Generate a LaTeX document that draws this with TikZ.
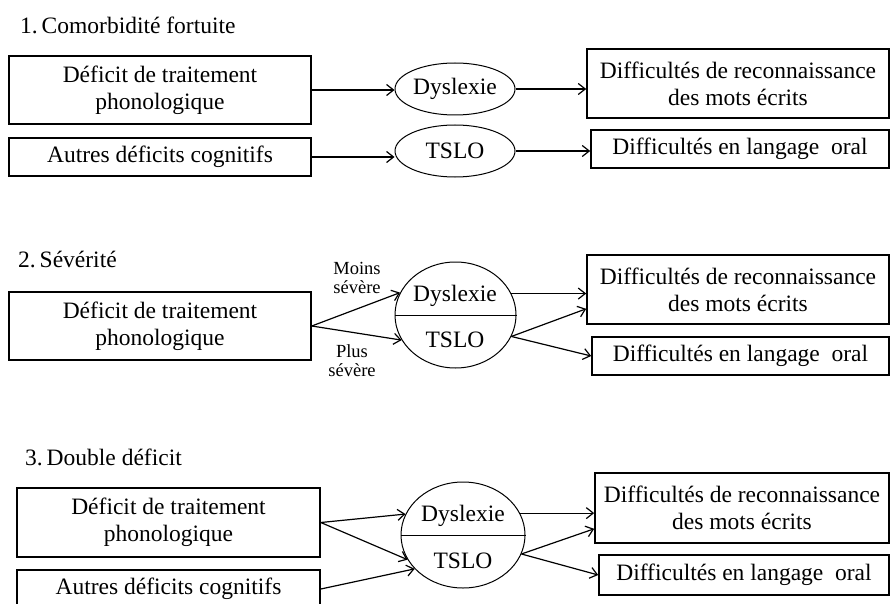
\documentclass[tikz,border=0pt]{standalone}
\usepackage{fontspec}
\setmainfont{Liberation Serif}
\usetikzlibrary{shapes.geometric,arrows.meta}

\begin{document}
\begin{tikzpicture}[x=1pt,y=-1pt,
  box/.style={draw,line width=1.6pt,rectangle,align=center,inner sep=0pt,font=\fontsize{23.5}{27}\selectfont},
  oval/.style={draw,line width=1pt,ellipse,inner sep=0pt,font=\fontsize{23.5}{27}\selectfont},
  txt/.style={inner sep=0pt,font=\fontsize{23.5}{27}\selectfont},
  titre/.style={txt,anchor=west},
  petit/.style={align=center,inner sep=0pt,font=\fontsize{18.5}{19}\selectfont},
  fleche/.style={-{Straight Barb[length=7pt,width=11pt]},line width=1.2pt}]
\useasboundingbox (0,0) rectangle (890,604);

% 1. Comorbidite fortuite
\node[titre] (titre1) at (20,25) {1.\,Comorbidité fortuite};
\node[box,minimum width=302pt,minimum height=68pt] (phono1) at (160,90) {Déficit de traitement\\phonologique};
\node[box,minimum width=302pt,minimum height=38pt] (autres1) at (160,157) {Autres déficits cognitifs};
\node[oval,minimum width=120pt,minimum height=52pt] (dys1) at (455,89) {Dyslexie};
\node[oval,minimum width=120pt,minimum height=52pt] (tslo1) at (455,151) {TSLO};
\node[box,minimum width=302pt,minimum height=69pt] (ecrit1) at (738,83.5) {Difficultés de reconnaissance\\des mots écrits};
\node[box,minimum width=298pt,minimum height=38pt] (oral1) at (740,149) {Difficultés en langage\ \ oral};

\draw[fleche] (phono1.east) -- (phono1.east -| dys1.west);
\draw[fleche] (autres1.east) -- (autres1.east -| tslo1.west);
\draw[fleche] (dys1.east) -- (dys1.east -| ecrit1.west);
\draw[fleche] (tslo1.east) -- (tslo1.east -| oral1.west);

% 2. Severite
\node[titre] (titre2) at (18,259) {2.\,Sévérité};
\node[box,minimum width=302pt,minimum height=68pt] (phono2) at (160,326) {Déficit de traitement\\phonologique};
\node[oval,minimum width=121pt,minimum height=106pt] (sev2) at (455.5,315) {};
\draw[line width=1pt] (sev2.west) -- (sev2.east);
\node[txt] (dys2) at (455,296) {Dyslexie};
\node[txt] (tslo2) at (455,340) {TSLO};
\node[box,minimum width=302pt,minimum height=69pt] (ecrit2) at (738,289.5) {Difficultés de reconnaissance\\des mots écrits};
\node[box,minimum width=297pt,minimum height=38pt] (oral2) at (740.5,356) {Difficultés en langage\ \ oral};
\node[petit] (moins) at (357,278) {Moins\\sévère};
\node[petit] (plus) at (352,361) {Plus\\sévère};

\draw[fleche] (phono2.east) -- (sev2.158);
\draw[fleche] (phono2.east) -- (sev2.205);
\draw[fleche] (sev2.21) -- (sev2.21 -| ecrit2.west);
\draw[fleche] (sev2.339) -- ([yshift=16pt]ecrit2.south west);
\draw[fleche] (sev2.339) -- (oral2.west);

% 3. Double deficit
\node[titre] (titre3) at (25,457) {3.\,Double déficit};
\node[box,minimum width=303pt,minimum height=69pt] (phono3) at (168.5,522.5) {Déficit de traitement\\phonologique};
\node[box,minimum width=303pt,minimum height=38pt] (autres3) at (168.5,589) {Autres déficits cognitifs};
\node[oval,minimum width=124pt,minimum height=106pt] (sev3) at (463,535) {};
\draw[line width=1pt] (sev3.west) -- (sev3.east);
\node[txt] (dys3) at (463,516) {Dyslexie};
\node[txt] (tslo3) at (463,561) {TSLO};
\node[box,minimum width=294pt,minimum height=70pt] (ecrit3) at (742,508) {Difficultés de reconnaissance\\des mots écrits};
\node[box,minimum width=290pt,minimum height=40pt] (oral3) at (744,575) {Difficultés en langage\ \ oral};

\draw[fleche] (phono3.east) -- (sev3.160);
\draw[fleche] (phono3.east) -- (sev3.204);
\draw[fleche] (autres3.east) -- (sev3.215);
\draw[fleche] (sev3.21) -- (sev3.21 -| ecrit3.west);
\draw[fleche] (sev3.342) -- ([yshift=15pt]ecrit3.south west);
\draw[fleche] (sev3.342) -- (oral3.west);
\end{tikzpicture}
\end{document}
